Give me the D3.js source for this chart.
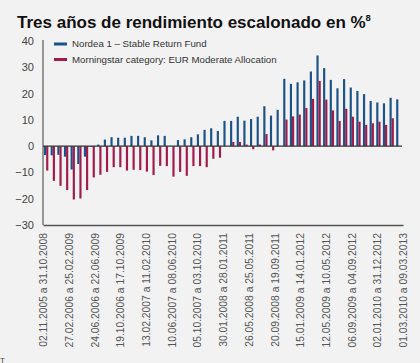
<!DOCTYPE html>
<html lang="es">
<head>
  <meta charset="utf-8"/>
  <title>Tres años de rendimiento escalonado</title>
  <script src="https://d3js.org/d3.v7.min.js"></script>
  <style>
    html, body { margin: 0; padding: 0; background: #f2f2f2; }
    svg, svg text { font-family: "Liberation Sans", Arial, Helvetica, sans-serif !important; }
    svg { display: block; }
  </style>
</head>
<body>
<svg id="chart" width="420" height="363"></svg>
<script>
  // Rolling 3-year periods (54 monthly windows), labels shown every few windows
  const periodLabels = [
    "02.11.2005 a 31.10.2008", "27.02.2006 a 25.02.2009", "24.06.2006 a 22.06.2009",
    "19.10.2006 a 17.10.2009", "13.02.2007 a 11.02.2010", "10.06.2007 a 08.06.2010",
    "05.10.2007 a 03.10.2010", "30.01.2008 a 28.01.2011", "26.05.2008 a 25.05.2011",
    "20.09.2008 a 19.09.2011", "15.01.2009 a 14.01.2012", "12.05.2009 a 10.05.2012",
    "06.09.2009 a 04.09.2012", "02.01.2010 a 31.12.2012", "01.03.2010 a 09.03.2013"
  ];
  const seriesNames = ["Nordea 1 – Stable Return Fund", "Morningstar category: EUR Moderate Allocation"];
  const seriesColors = ["#1c5286", "#a01b4c"];

  const nordea = [
    -3.4, -3.5, -3.3, -4.0, -8.9, -6.8, -4.0, -0.3, 0.6, 2.5,
    3.4, 3.2, 3.2, 3.9, 3.9, 3.4, 2.2, 4.1, 3.9, null,
    2.3, 2.6, 3.4, 4.5, 6.2, 6.8, 5.8, 9.6, 9.6, 11.2,
    9.7, 10.3, 11.2, 15.2, 11.6, 13.8, 25.6, 23.7, 24.3, 25.0,
    28.4, 34.5, 29.7, 25.2, 22.0, 25.5, 22.3, 21.0, 19.8, 17.2,
    16.6, 16.3, 18.4, 17.8
  ];
  const morningstar = [
    -9.3, -13.2, -15.1, -16.7, -20.3, -19.9, -16.7, -11.9, -10.9, -9.8,
    -8.0, -8.0, -9.3, -9.0, -9.1, -9.7, -11.0, -7.5, -7.6, -11.6,
    -9.8, -11.3, -7.6, -7.6, -8.0, -4.8, -4.4, null, 1.6, 1.6,
    0.6, -1.2, 0.6, 4.6, -1.6, null, 10.1, 11.3, 12.0, 14.5,
    18.0, 24.8, 17.7, 13.6, 9.6, 14.2, 11.2, 9.3, 8.1, 8.7,
    9.3, 8.1, 10.6, null
  ];
  const yTicks = [-30, -20, -10, 0, 10, 20, 30, 40];

  const svg = d3.select("#chart");
  const margin = { top: 41, left: 43, bottom: 138 };
  const innerWidth = 360;
  const innerHeight = 363 - margin.top - margin.bottom;

  svg.append("text")
    .attr("x", 17).attr("y", 28)
    .attr("font-size", 17).attr("font-weight", "bold").attr("fill", "#111")
    .text("Tres años de rendimiento escalonado en %")
    .append("tspan")
    .attr("font-size", 9.5).attr("dy", -7)
    .text("8");

  const g = svg.append("g").attr("transform", `translate(${margin.left},${margin.top})`);

  const xScale = d3.scaleBand().domain(d3.range(nordea.length)).range([1, 357.5]).paddingInner(0.35);
  const yScale = d3.scaleLinear().domain([-30, 40]).range([innerHeight, 0]);
  const labelScale = d3.scalePoint().domain(periodLabels).range([0, innerWidth]);

  // y axis: labels only, plus the plain axis line
  const yAxis = g.append("g")
    .call(d3.axisLeft(yScale).tickValues(yTicks).tickSize(0).tickPadding(9));
  yAxis.select(".domain").remove();
  yAxis.selectAll("text").attr("font-size", 11).attr("fill", "#444");

  g.append("line")
    .attr("x1", 0).attr("x2", 0).attr("y1", -1).attr("y2", innerHeight)
    .attr("stroke", "#7a7a7a").attr("stroke-width", 1.5);

  const half = xScale.bandwidth() / 2;
  const series = [nordea, morningstar];
  series.forEach(function(values, s) {
    g.append("g").selectAll("rect")
      .data(values.map((v, i) => ({ i: i, v: v })).filter(d => d.v !== null))
      .enter()
      .append("rect")
      .attr("x", d => xScale(d.i) + s * half)
      .attr("width", half)
      .attr("y", d => yScale(Math.max(0, d.v)))
      .attr("height", d => Math.abs(yScale(d.v) - yScale(0)))
      .attr("fill", seriesColors[s]);
  });

  // zero line
  g.append("line")
    .attr("x1", 0).attr("x2", innerWidth - 1)
    .attr("y1", yScale(0)).attr("y2", yScale(0))
    .attr("stroke", "#333").attr("stroke-width", 1.2);

  // bottom axis with rotated period labels
  const xAxis = g.append("g")
    .attr("transform", `translate(0,${innerHeight})`)
    .call(d3.axisBottom(labelScale).tickSize(0));
  xAxis.select(".domain").attr("stroke", "#555").attr("stroke-width", 1.5);
  xAxis.selectAll("text")
    .attr("font-size", 10.3).attr("fill", "#555")
    .attr("text-anchor", "end")
    .attr("transform", "rotate(-90)")
    .attr("x", -8).attr("y", 0).attr("dy", "0.35em");

  // legend
  const legend = g.append("g").attr("transform", "translate(11,3)");
  seriesNames.forEach(function(name, s) {
    const row = legend.append("g").attr("transform", `translate(0,${s * 15.5})`);
    row.append("line")
      .attr("x1", 0).attr("x2", 13).attr("y1", 0).attr("y2", 0)
      .attr("stroke", seriesColors[s]).attr("stroke-width", 3);
    row.append("text")
      .attr("x", 18).attr("y", 0).attr("dy", "0.35em")
      .attr("font-size", 9.7).attr("fill", "#333")
      .text(name);
  });

  svg.append("text")
    .attr("x", 0).attr("y", 363)
    .attr("font-size", 8).attr("fill", "#444")
    .text("T");
</script>
</body>
</html>
